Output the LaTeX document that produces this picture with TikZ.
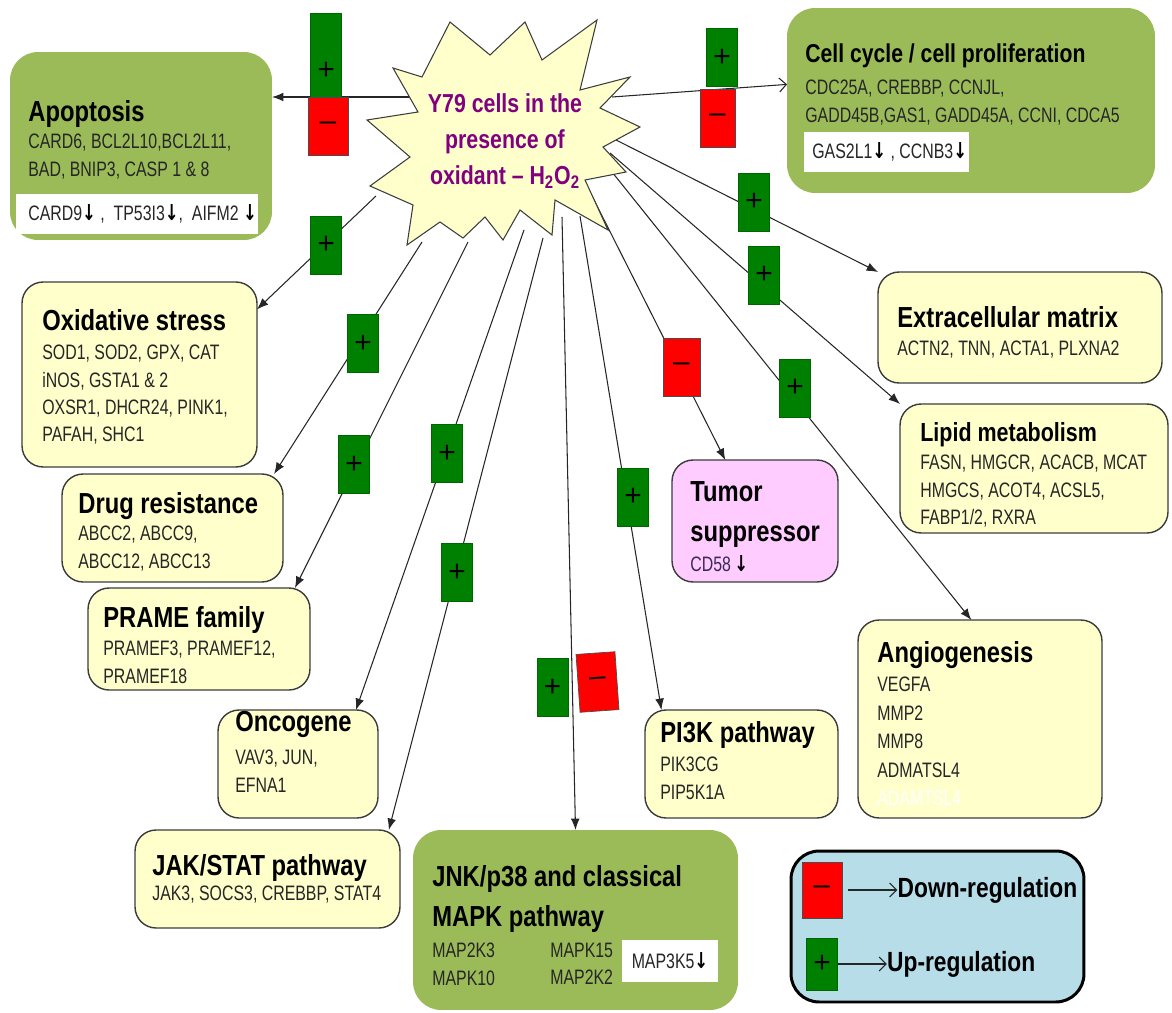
\documentclass[tikz,border=0pt]{standalone}
\usepackage{fontspec}
\setmainfont{Liberation Sans}
\newfontfamily\genefont{Liberation Sans}[FakeStretch=0.76]
\newfontfamily\headfont{Liberation Sans}[FakeStretch=0.82]
\newfontfamily\arrowfont{DejaVu Sans}[FakeStretch=0.75]
\usepackage{xcolor}
\usepackage{tikz}
\usetikzlibrary{shapes,arrows.meta,positioning}

\definecolor{boxolive}{HTML}{9BBB59}
\definecolor{cream}{HTML}{FFFFCC}
\definecolor{lilac}{HTML}{FFCCFF}
\definecolor{paleblue}{HTML}{B7DDE8}
\definecolor{upgreen}{HTML}{008000}
\definecolor{downred}{HTML}{FF0000}
\definecolor{plum}{HTML}{800080}
\definecolor{boxedge}{HTML}{3C3C3C}
\definecolor{genegray}{HTML}{262626}
\definecolor{cdgray}{HTML}{3B2A55}

\newcommand{\dn}{{\arrowfont\bfseries\fontsize{12.5}{12.5}\selectfont\color{black}↓}}

\tikzset{
  greenbox/.style={rectangle, rounded corners=16pt, fill=boxolive, inner sep=0pt, outer sep=0pt},
  yellowbox/.style={rectangle, rounded corners=12pt, fill=cream, draw=boxedge, line width=0.8pt, inner sep=0pt, outer sep=0pt},
  pinkbox/.style={yellowbox, fill=lilac},
  legendbox/.style={rectangle, rounded corners=16pt, fill=paleblue, draw=black, line width=1.7pt, inner sep=0pt},
  whiteband/.style={rectangle, fill=white, inner sep=0pt},
  heading/.style={font=\headfont\bfseries\fontsize{16.5}{22.7}\selectfont, align=left, inner sep=0pt, anchor=north west},
  genes/.style={font=\genefont\fontsize{11.9}{15.5}\selectfont, text=genegray, align=left, inner sep=0pt, anchor=north west},
  legtext/.style={font=\headfont\bfseries\fontsize{15.8}{17}\selectfont, inner sep=0pt},
  upbadge/.style={rectangle, fill=upgreen, draw=upgreen!80!black, line width=0.4pt, minimum width=0.62cm, minimum height=1.16cm, inner sep=0pt, font=\fontsize{17}{17}\selectfont},
  downbadge/.style={upbadge, fill=downred, draw=black!70, minimum width=0.74cm},
  link/.style={draw=black!85, line width=0.6pt, -{Latex[length=6.5pt,width=5pt]}},
  openlink/.style={draw=black!85, line width=0.6pt, -{Straight Barb[length=4pt,width=8pt]}},
  burst/.style={fill=cream, draw=boxedge, line width=0.6pt},
  bursttext/.style={font=\headfont\bfseries\fontsize{14.8}{20.4}\selectfont, text=plum, align=center, inner sep=0pt}
}

\begin{document}
\begin{tikzpicture}[x=0.02cm, y=-0.02cm]
\useasboundingbox (0,0) rectangle (1172,1013);

% Boxes
\node[greenbox, minimum width=5.24cm, minimum height=3.76cm] (apo) at (141,146) {};
\node[whiteband, minimum width=4.84cm, minimum height=0.8cm] (apoband) at (137,214) {};
\node[greenbox, minimum width=7.36cm, minimum height=3.7cm] (cc) at (971,100.5) {};
\node[whiteband, minimum width=3.3cm, minimum height=0.8cm] (ccband) at (886,152) {};
\node[yellowbox, minimum width=5.68cm, minimum height=2.22cm] (ecm) at (1020,327.5) {};
\node[yellowbox, minimum width=5.36cm, minimum height=2.58cm] (lip) at (1034,468.5) {};
\node[yellowbox, minimum width=4.7cm, minimum height=3.7cm] (oxi) at (139.5,374.5) {};
\node[yellowbox, minimum width=4.42cm, minimum height=2.16cm] (drug) at (172.5,528) {};
\node[yellowbox, minimum width=4.44cm, minimum height=2.04cm] (prame) at (199,639) {};
\node[yellowbox, minimum width=3.2cm, minimum height=2.16cm] (onco) at (298,764) {};
\node[yellowbox, minimum width=5.3cm, minimum height=1.96cm] (jak) at (267.5,879) {};
\node[greenbox, minimum width=6.5cm, minimum height=3.6cm] (jnk) at (575.5,920) {};
\node[whiteband, minimum width=1.92cm, minimum height=0.84cm] (jnkband) at (670,961) {};
\node[yellowbox, minimum width=3.86cm, minimum height=2.16cm] (pik) at (741.5,764) {};
\node[yellowbox, minimum width=4.88cm, minimum height=3.96cm] (ang) at (980,719) {};
\node[pinkbox, minimum width=3.32cm, minimum height=2.44cm] (tum) at (755,521) {};

% Box texts
\node[heading] (apotitle) at (28,100) {Apoptosis};
\node[genes] (apogenes) at (28,134) {CARD6, BCL2L10,BCL2L11,\\BAD, BNIP3, CASP 1 \& 8};
\node[genes, anchor=west] (apodown) at (28,214) {CARD9\dn\ ,\ \ TP53I3\dn,\ \ AIFM2 \dn};

\node[heading, font=\headfont\bfseries\fontsize{14.7}{18}\selectfont] (cctitle) at (805,43) {Cell cycle / cell proliferation};
\node[genes] (ccgenes) at (805,80) {CDC25A, CREBBP, CCNJL,\\GADD45B,GAS1, GADD45A, CCNI, CDCA5};
\node[genes, anchor=west] (ccdown) at (812,152) {GAS2L1\dn\ , CCNB3\dn};

\node[heading] (ecmtitle) at (897,306) {Extracellular matrix};
\node[genes] (ecmgenes) at (897,341) {ACTN2, TNN, ACTA1, PLXNA2};

\node[heading, font=\headfont\bfseries\fontsize{14.9}{18}\selectfont] (liptitle) at (920,422) {Lipid metabolism};
\node[genes] (lipgenes) at (920,455) {FASN, HMGCR, ACACB, MCAT\\HMGCS, ACOT4, ACSL5,\\FABP1/2, RXRA};

\node[heading] (oxititle) at (42,309) {Oxidative stress};
\node[genes] (oxigenes) at (42,345) {SOD1, SOD2, GPX, CAT\\iNOS, GSTA1 \& 2\\OXSR1, DHCR24, PINK1,\\PAFAH, SHC1};

\node[heading] (drugtitle) at (78,492) {Drug resistance};
\node[genes] (druggenes) at (78,526) {ABCC2, ABCC9,\\ABCC12, ABCC13};

\node[heading] (prametitle) at (103,606) {PRAME family};
\node[genes] (pramegenes) at (103,641) {PRAMEF3, PRAMEF12,\\PRAMEF18};

\node[heading] (oncotitle) at (235,711) {Oncogene};
\node[genes] (oncogenes) at (235,750) {VAV3, JUN,\\EFNA1};

\node[heading] (jaktitle) at (152,854) {JAK/STAT pathway};
\node[genes] (jakgenes) at (152,886) {JAK3, SOCS3, CREBBP, STAT4};

\node[heading] (jnktitle) at (432,865) {JNK/p38 and classical\\MAPK pathway};
\node[genes] (jnkgenesa) at (432,943) {MAP2K3\\MAPK10};
\node[genes] (jnkgenesb) at (550,943) {MAPK15\\MAP2K2};
\node[genes, anchor=center] (jnkdown) at (670,961) {MAP3K5\dn};

\node[heading] (piktitle) at (660,721) {PI3K pathway};
\node[genes] (pikgenes) at (660,757) {PIK3CG\\PIP5K1A};

\node[heading] (angtitle) at (877,641) {Angiogenesis};
\node[genes, font=\genefont\fontsize{11.9}{16.2}\selectfont] (anggenes) at (877,677) {VEGFA\\MMP2\\MMP8\\ADMATSL4\\\textcolor{white}{ADAMTSL4}};

\node[heading] (tumtitle) at (690,481) {Tumor\\suppressor};
\node[genes, text=cdgray] (tumgenes) at (690,555) {CD58\,\dn};

% Links from the burst
\coordinate (sapo) at (412,97);
\coordinate (scc) at (612,97);
\coordinate (secm) at (616,140);
\coordinate (slip) at (610,153);
\coordinate (sang) at (612,172);
\coordinate (stum) at (588,188);
\coordinate (spik) at (580,216);
\coordinate (sjnk) at (562,217);
\coordinate (sjak) at (543,238);
\coordinate (sonco) at (524,230);
\coordinate (sprame) at (468,242);
\coordinate (sdrug) at (422,242);
\coordinate (soxi) at (376,196);

\draw[link] (sapo) -- (sapo -| apo.east);
\draw[openlink] (scc) -- (cc.175);
\draw[link] (secm) -- (ecm.north west);
\draw[link] (slip) -- (lip.north west);
\draw[link] (sang) -- (ang.95);
\draw[link] (stum) -- (tum.116);
\draw[link] (spik) -- (pik.146);
\draw[link] (sjnk) -- (jnk.north);
\draw[link] (sjak) -- (jak.22);
\draw[link] (sonco) -- (onco.43);
\draw[link] (sprame) -- (prame.28);
\draw[link] (sdrug) -- (drug.28);
\draw[link] (soxi) -- (oxi.29);

% Burst
\draw[burst] (393,68) -- (422,77) -- (450,22) -- (490,55) -- (525,22) -- (542,60)
  -- (597,20) -- (580,90) -- (630,77) -- (600,108) -- (640,127) -- (603,147)
  -- (626,172) -- (585,180) -- (608,230) -- (555,200) -- (552,235) -- (520,210)
  -- (503,240) -- (485,217) -- (463,238) -- (440,222) -- (407,245) -- (413,205)
  -- (370,186) -- (410,157) -- (367,120) -- (418,112) -- cycle;
\node[bursttext] (cells) at (505,141) {Y79 cells in the\\presence of\\oxidant – H\textsubscript{2}O\textsubscript{2}};

% Badges
\node[upbadge, minimum height=1.68cm, text height=1.0cm, text depth=0pt] (apoup) at (326,55) {+};
\node[downbadge, minimum width=0.8cm] (apodn) at (328,126) {–};
\node[downbadge, minimum width=0.7cm] (ccdn) at (717.5,118.5) {–};
\node[downbadge] (tumdn) at (681.5,367) {–};
\node[downbadge, minimum width=0.78cm, rotate=4] (jnkdn) at (597.5,682) {–};
\foreach \name/\x/\y in {ccup/722/57.5, oxiup/326/245, drugup/363/343.5, prameup/354/464.5,
    oncoup/447/453.5, jakup/457/572.5, pikup/633/497, ecmup/754/202,
    lipup/764/275, angup/795/388, jnkup/552.5/687.5}
  \node[upbadge] (\name) at (\x,\y) {+};

% Legend
\node[legendbox, minimum width=5.86cm, minimum height=3.02cm] (legend) at (937.5,926.5) {};
\node[downbadge, minimum width=0.8cm, minimum height=1.12cm] (lgdn) at (822,890) {–};
\node[upbadge, minimum height=1.04cm] (lgup) at (822,964) {+};
\node[legtext, right=1.1cm of lgdn] (lgdntext) {Down-regulation};
\node[legtext, right=0.98cm of lgup] (lguptext) {Up-regulation};
\draw[openlink] ([xshift=3pt]lgdn.east) -- (lgdntext.west);
\draw[openlink] (lgup.east) -- (lguptext.west);

\end{tikzpicture}
\end{document}
